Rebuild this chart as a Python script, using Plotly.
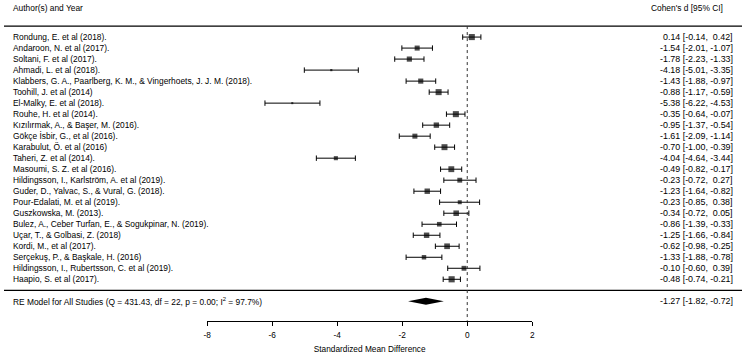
import numpy as np
import plotly.graph_objects as go

authors = [
    "Rondung, E. et al (2018).",
    "Andaroon, N. et al (2017).",
    "Soltani, F. et al (2017).",
    "Ahmadi, L. et al (2018).",
    "Klabbers, G. A., Paarlberg, K. M., & Vingerhoets, J. J. M. (2018).",
    "Toohill, J. et al (2014)",
    "El-Malky, E. et al (2018).",
    "Rouhe, H. et al (2014).",
    "Kızılırmak, A., & Başer, M. (2016).",
    "Gökçe İsbir, G., et al (2016).",
    "Karabulut, Ö. et al (2016)",
    "Taheri, Z. et al (2014).",
    "Masoumi, S. Z. et al (2016).",
    "Hildingsson, I., Karlström, A. et al (2019).",
    "Guder, D., Yalvac, S., & Vural, G. (2018).",
    "Pour-Edalati, M. et al (2019).",
    "Guszkowska, M. (2013).",
    "Bulez, A., Ceber Turfan, E., & Sogukpinar, N. (2019).",
    "Uçar, T., & Golbasi, Z. (2018)",
    "Kordi, M., et al (2017).",
    "Serçekuş, P., & Başkale, H. (2016)",
    "Hildingsson, I., Rubertsson, C. et al (2019).",
    "Haapio, S. et al (2017).",
]
estimates = [0.14, -1.54, -1.78, -4.18, -1.43, -0.88, -5.38, -0.35, -0.95, -1.61, -0.70, -4.04,
             -0.49, -0.23, -1.23, -0.23, -0.34, -0.86, -1.25, -0.62, -1.33, -0.10, -0.48]
ci_lower = [-0.14, -2.01, -2.23, -5.01, -1.88, -1.17, -6.22, -0.64, -1.37, -2.09, -1.00, -4.64,
            -0.82, -0.72, -1.64, -0.85, -0.72, -1.39, -1.66, -0.98, -1.88, -0.60, -0.74]
ci_upper = [0.42, -1.07, -1.33, -3.35, -0.97, -0.59, -4.53, -0.07, -0.54, -1.14, -0.39, -3.44,
            -0.17, 0.27, -0.82, 0.38, 0.05, -0.33, -0.84, -0.25, -0.78, 0.39, -0.21]
summary_label = "RE Model for All Studies (Q = 431.43, df = 22, p = 0.00; I<sup>2</sup> = 97.7%)"
summary_est, summary_lb, summary_ub = -1.27, -1.82, -0.72
x_ticks = [-8, -6, -4, -2, 0, 2]
x_tick_labels = ["-8", "-6", "-4", "-2", "0", "2"]
left_header = "Author(s) and Year"
right_header = "Cohen's d [95% CI]"
x_title = "Standardized Mean Difference"

FONT = "Liberation Sans, Arial, sans-serif"
W, H = 745, 356
k = len(authors)
est = np.array(estimates)
lb = np.array(ci_lower)
ub = np.array(ci_upper)
rows = np.arange(k, 0, -1)

# marker sizes from random-effects weights (DerSimonian-Laird)
vi = ((ub - lb) / 3.92) ** 2
wi = 1 / vi
ybar = np.sum(wi * est) / np.sum(wi)
Q = np.sum(wi * (est - ybar) ** 2)
C = np.sum(wi) - np.sum(wi ** 2) / np.sum(wi)
tau2 = max(0.0, (Q - (k - 1)) / C)
w = 1 / (vi + tau2)
psize = (w - w.min()) / (w.max() - w.min()) + 0.5
sizes = 4.1 * psize

# pixel mapping of rows
ROW0_PX = 290.3
ROW_PX = 11.01
y_top = ROW0_PX / ROW_PX
y_bot = (ROW0_PX - H) / ROW_PX
axis_px = 320.7
axis_row = (ROW0_PX - axis_px) / ROW_PX

fig = go.Figure()
fig.add_trace(go.Scatter(
    x=est, y=rows, mode="markers",
    marker=dict(symbol="square", size=sizes, color="black", line=dict(width=0)),
    error_x=dict(type="data", symmetric=False, array=ub - est, arrayminus=est - lb,
                 color="black", thickness=1, width=2.7),
    hoverinfo="skip", showlegend=False, cliponaxis=False,
))
h = 0.32
fig.add_trace(go.Scatter(
    x=[summary_lb, summary_est, summary_ub, summary_est, summary_lb],
    y=[-1, -1 + h, -1, -1 - h, -1],
    mode="lines", fill="toself", fillcolor="black", line=dict(width=0, color="black"),
    hoverinfo="skip", showlegend=False,
))

shapes = [
    dict(type="line", xref="paper", yref="y", x0=0, x1=1, y0=k + 1, y1=k + 1,
         line=dict(color="black", width=1.2)),
    dict(type="line", xref="paper", yref="y", x0=0, x1=1, y0=0, y1=0,
         line=dict(color="black", width=1.2)),
    dict(type="line", xref="x", yref="y", x0=0, x1=0, y0=k + 1, y1=axis_row,
         line=dict(color="#333333", width=1, dash="dot")),
]

def fmt(v):
    s = f"{v:.2f}"
    return ("\u00a0" if v >= 0 else "") + s

annotations = []
txt = dict(family=FONT, size=8.4, color="black")
numfont = dict(family=FONT, size=8.9, color="black")
axfont = dict(family=FONT, size=8.3, color="black")
for r, a, e, l, u in zip(rows, authors, est, lb, ub):
    annotations.append(dict(xref="paper", yref="y", x=7 / W, y=r, text=a, showarrow=False,
                            xanchor="left", yanchor="middle", font=txt))
    annotations.append(dict(xref="paper", yref="y", x=738 / W, y=r,
                            text=f"{e:.2f} [{fmt(l)}, {fmt(u)}]", showarrow=False,
                            xanchor="right", yanchor="middle", font=numfont))
annotations.append(dict(xref="paper", yref="y", x=7 / W, y=-1, text=summary_label, showarrow=False,
                        xanchor="left", yanchor="middle", font=txt))
annotations.append(dict(xref="paper", yref="y", x=738 / W, y=-1,
                        text=f"{summary_est:.2f} [{fmt(summary_lb)}, {fmt(summary_ub)}]",
                        showarrow=False, xanchor="right", yanchor="middle", font=numfont))
head_row = (ROW0_PX - 7.5) / ROW_PX
annotations.append(dict(xref="paper", yref="y", x=7 / W, y=head_row, text=left_header,
                        showarrow=False, xanchor="left", yanchor="middle", font=txt))
annotations.append(dict(xref="paper", yref="y", x=728 / W, y=head_row, text=right_header,
                        showarrow=False, xanchor="right", yanchor="middle", font=txt))

fig.update_layout(
    width=W, height=H, autosize=False,
    margin=dict(l=0, r=0, t=0, b=0, pad=0),
    paper_bgcolor="white", plot_bgcolor="rgba(0,0,0,0)",
    font=txt,
    xaxis=dict(domain=[205 / W, 533.3 / W], range=[-8, 2], anchor="free",
               position=1 - axis_px / H, showline=True, linecolor="black", linewidth=1,
               ticks="outside", ticklen=4, tickwidth=1, tickcolor="black",
               tickvals=x_ticks, ticktext=x_tick_labels, showgrid=False, zeroline=False,
               ticklabelstandoff=2,
               tickfont=axfont, title=dict(text=x_title, font=axfont, standoff=7)),
    yaxis=dict(domain=[0, 1], range=[y_bot, y_top], visible=False, showgrid=False,
               zeroline=False),
    shapes=shapes, annotations=annotations,
)
fig.write_html("out.html", config={"displayModeBar": False, "staticPlot": True})

with open("out.html", "r", encoding="utf-8") as f:
    html = f.read()
html = html.replace("<head>", "<head><style>html,body{margin:0;padding:0;overflow:hidden;}</style>", 1)
with open("out.html", "w", encoding="utf-8") as f:
    f.write(html)
